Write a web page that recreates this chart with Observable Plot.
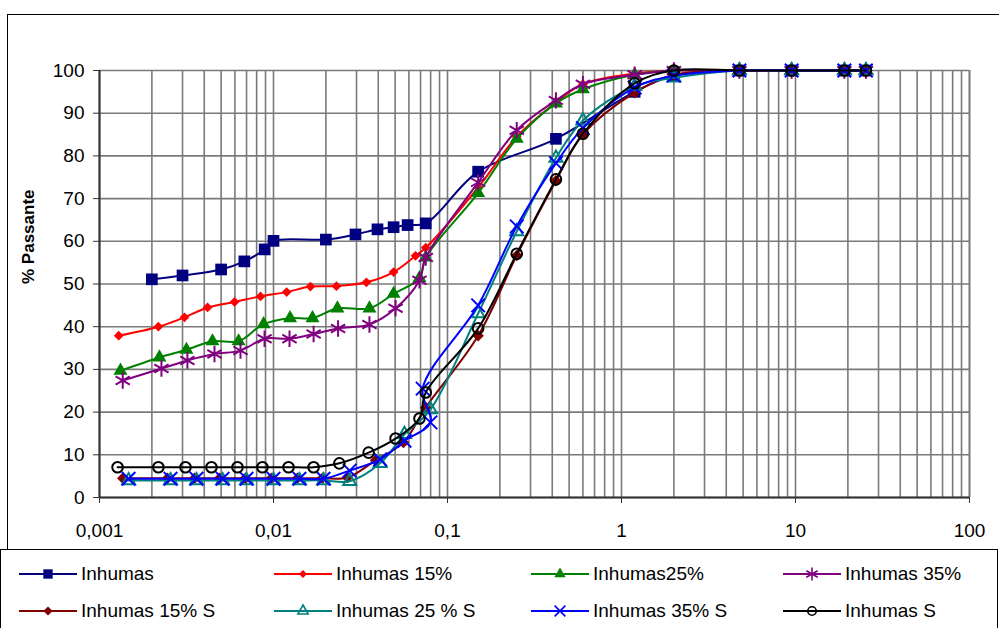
<!DOCTYPE html>
<html><head><meta charset="utf-8">
<script src="https://cdn.jsdelivr.net/npm/d3@7"></script>
<script src="https://cdn.jsdelivr.net/npm/@observablehq/plot@0.6"></script>
<style>
body{margin:0;background:#fff;font-family:"Liberation Sans",Arial,sans-serif;}
#wrap{position:relative;width:999px;height:628px;overflow:hidden;background:#fff;}
#frame{position:absolute;left:7px;top:14px;width:1100px;height:700px;border:1px solid #000;box-sizing:border-box;}
#chart{position:absolute;left:0;top:0;}
#legend{position:absolute;left:0;top:549px;width:998px;height:100px;border:1px solid #000;background:#fff;box-sizing:border-box;}
.lg{position:absolute;height:24px;display:flex;align-items:center;font-size:19px;color:#000;white-space:nowrap;}
.lg svg{margin-right:4px;}
</style></head><body>
<div id="wrap"><div id="frame"></div><div id="chart"></div><div id="legend"></div></div>
<script>
// ---- data ----
const seriesNames = ["Inhumas", "Inhumas 15%", "Inhumas25%", "Inhumas 35%", "Inhumas 15% S", "Inhumas 25 % S", "Inhumas 35% S", "Inhumas S"];

const inhumasX = [0.002, 0.003, 0.005, 0.0068, 0.0089, 0.01, 0.02, 0.0296, 0.0396, 0.049, 0.059, 0.075, 0.15, 0.42, 1.19, 2.0, 4.76, 9.5, 19.1, 25.4];
const inhumasY = [51.1, 52.0, 53.4, 55.3, 58.1, 60.1, 60.4, 61.6, 62.8, 63.3, 63.8, 64.2, 76.3, 84.0, 95.0, 98.8, 100, 100, 100, 100];

const inh15X = [0.00129, 0.00218, 0.00308, 0.00418, 0.00597, 0.00842, 0.0119, 0.0163, 0.023, 0.0342, 0.049, 0.0655, 0.075, 0.15, 0.25, 0.42, 0.6, 1.19, 2.0, 4.76, 9.5, 19.1, 25.4];
const inh15Y = [37.9, 40.0, 42.2, 44.5, 45.8, 47.1, 48.1, 49.4, 49.5, 50.4, 52.8, 56.6, 58.5, 72.6, 84.5, 92.5, 96.8, 99.3, 100, 100, 100, 100, 100];

const inh25X = [0.00132, 0.00221, 0.00316, 0.00446, 0.0063, 0.00877, 0.01245, 0.01675, 0.0233, 0.0356, 0.049, 0.069, 0.075, 0.15, 0.25, 0.42, 0.6, 1.19, 2.0, 4.76, 9.5, 19.1, 25.4];
const inh25Y = [29.7, 32.8, 34.6, 36.6, 36.6, 40.6, 42.0, 42.0, 44.3, 44.3, 47.7, 51.4, 56.2, 71.3, 84.0, 92.3, 95.6, 99.0, 100, 100, 100, 100, 100];

const inh35X = [0.00136, 0.00227, 0.0032, 0.00458, 0.00646, 0.00888, 0.01236, 0.017, 0.0235, 0.0356, 0.0503, 0.069, 0.075, 0.15, 0.25, 0.42, 0.6, 1.19, 2.0, 4.76, 9.5, 19.1, 25.4];
const inh35Y = [27.4, 30.2, 32.1, 33.6, 34.4, 37.2, 37.2, 38.3, 39.6, 40.5, 44.3, 50.9, 56.2, 73.8, 86.0, 93.0, 96.8, 99.0, 100, 100, 100, 100, 100];

const inh15SX = [0.00136, 0.00246, 0.00352, 0.0049, 0.0069, 0.00974, 0.01374, 0.0191, 0.0266, 0.0386, 0.0558, 0.075, 0.15, 0.25, 0.42, 0.6, 1.19, 2.0, 4.76, 9.5, 19.1, 25.4];
const inh15SY = [4.5, 4.5, 4.5, 4.5, 4.5, 4.5, 4.5, 4.5, 4.7, 8.7, 12.9, 21.1, 37.9, 56.7, 74.2, 85.0, 94.8, 99.0, 100, 100, 100, 100];

const inh25SX = [0.00147, 0.00256, 0.00361, 0.0051, 0.007, 0.01, 0.0141, 0.0194, 0.0274, 0.041, 0.0566, 0.0798, 0.15, 0.25, 0.42, 0.6, 1.19, 2.0, 4.76, 9.5, 19.1, 25.4];
const inh25SY = [4.0, 4.0, 4.0, 4.0, 4.0, 4.0, 4.0, 4.0, 3.8, 8.0, 14.8, 20.6, 43.1, 62.3, 79.5, 88.3, 96.3, 98.3, 100, 100, 100, 100];

const inh35SX = [0.00147, 0.00256, 0.00361, 0.0051, 0.007, 0.01, 0.0141, 0.0194, 0.0274, 0.041, 0.0566, 0.0798, 0.072, 0.15, 0.25, 0.42, 0.6, 1.19, 2.0, 4.76, 9.5, 19.1, 25.4];
const inh35SY = [4.4, 4.4, 4.4, 4.4, 4.4, 4.4, 4.4, 4.4, 6.3, 8.9, 13.3, 17.6, 25.5, 45.0, 63.5, 78.3, 86.5, 96.0, 98.8, 100, 100, 100, 100];

const inhSX = [0.00127, 0.00218, 0.00312, 0.0044, 0.00621, 0.00864, 0.0122, 0.017, 0.0239, 0.0352, 0.0503, 0.069, 0.075, 0.15, 0.25, 0.42, 0.6, 1.19, 2.0, 4.76, 9.5, 19.1, 25.4];
const inhSY = [7.1, 7.1, 7.1, 7.1, 7.1, 7.1, 7.1, 7.1, 8.0, 10.5, 13.8, 18.5, 24.6, 39.6, 57.1, 74.5, 85.2, 97.0, 100, 100, 100, 100, 100];

const xTickLabels = [0.001, 0.01, 0.1, 1, 10, 100];
const yTicks = [0, 10, 20, 30, 40, 50, 60, 70, 80, 90, 100];
const xGridTicks = [];
for (const p of [0.001, 0.01, 0.1, 1, 10]) for (let m = 1; m <= 9; m++) xGridTicks.push(+(m * p).toPrecision(3));
xGridTicks.push(100);

// ---- styles ----
const styles = [
  {color: "#000080", symbol: "square", r: 6.6, filled: true},
  {color: "#ff0000", symbol: "square", r: 3.9, filled: true, rotate: 45},
  {color: "#008000", symbol: "triangle", r: 5.2, filled: true},
  {color: "#800080", symbol: "asterisk", r: 7.8, filled: false},
  {color: "#800000", symbol: "square", r: 4.6, filled: true, rotate: 45},
  {color: "#008080", symbol: "triangle2", r: 6.2, filled: false},
  {color: "#0000ff", symbol: "times", r: 6.2, filled: false},
  {color: "#000000", symbol: "circle", r: 5.3, filled: false}
];
const xs = [inhumasX, inh15X, inh25X, inh35X, inh15SX, inh25SX, inh35SX, inhSX];
const ys = [inhumasY, inh15Y, inh25Y, inh35Y, inh15SY, inh25SY, inh35SY, inhSY];

const marks = [
  Plot.gridY(yTicks, {stroke: "#7a7a7a", strokeOpacity: 1, strokeWidth: 1.6}),
  Plot.gridX(xGridTicks, {stroke: "#7a7a7a", strokeOpacity: 1, strokeWidth: 1.6}),
  Plot.ruleX([100], {stroke: "#7a7a7a", strokeWidth: 1.6}),
  Plot.ruleX([0.001], {stroke: "#333", strokeWidth: 2}),
  Plot.ruleY([0], {stroke: "#333", strokeWidth: 2}),
  Plot.axisY(yTicks, {tickSize: 6, tickPadding: 9, fontSize: 19, label: null, stroke: "#333"}),
  Plot.axisX(xTickLabels, {tickSize: 6, tickPadding: 20, fontSize: 19, label: null, stroke: "#333",
    tickFormat: d => String(d).replace(".", ",")}),
  Plot.text(["% Passante"], {frameAnchor: "left", dx: -71, rotate: -90, fontWeight: "bold", fontSize: 17})
];
seriesNames.forEach((name, i) => {
  const rows = xs[i].map((x, j) => ({x, y: ys[i][j]}));
  const st = styles[i];
  marks.push(Plot.line(rows, {x: "x", y: "y", stroke: st.color, strokeWidth: 2, curve: "catmull-rom"}));
  const opts = {x: "x", y: "y", symbol: st.symbol, r: st.r};
  if (st.filled) { opts.fill = st.color; opts.stroke = "none"; }
  else { opts.fill = "none"; opts.stroke = st.color; opts.strokeWidth = 2; }
  if (st.rotate) opts.rotate = st.rotate;
  marks.push(Plot.dot(rows, opts));
});

const chart = Plot.plot({
  width: 999, height: 549,
  marginLeft: 99, marginRight: 30, marginTop: 70, marginBottom: 52,
  style: {fontFamily: "'Liberation Sans', Arial, sans-serif", fontSize: "19px", background: "transparent", color: "#000"},
  x: {type: "log", domain: [0.001, 100]},
  y: {domain: [0, 100]},
  marks
});
document.getElementById("chart").appendChild(chart);

// ---- legend ----
const symMap = {square: d3.symbolSquare, triangle: d3.symbolTriangle, asterisk: d3.symbolAsterisk,
  triangle2: d3.symbolTriangle2, times: d3.symbolTimes, circle: d3.symbolCircle};
const legend = document.getElementById("legend");
const colX = [18, 273, 530, 782];
const rowY = [12, 49];
seriesNames.forEach((name, i) => {
  const st = styles[i];
  const div = document.createElement("div");
  div.className = "lg";
  div.style.left = colX[i % 4] + "px";
  div.style.top = rowY[Math.floor(i / 4)] + "px";
  const svg = d3.create("svg").attr("width", 58).attr("height", 24);
  svg.append("line").attr("x1", 0).attr("x2", 58).attr("y1", 12).attr("y2", 12).attr("stroke", st.color).attr("stroke-width", 2);
  const rr = st.r * 0.8;
  const p = svg.append("path").attr("d", d3.symbol(symMap[st.symbol], Math.PI * rr * rr)())
    .attr("transform", `translate(29,12) rotate(${st.rotate || 0})`);
  if (st.filled) p.attr("fill", st.color); else p.attr("fill", "none").attr("stroke", st.color).attr("stroke-width", 1.6);
  div.appendChild(svg.node());
  const span = document.createElement("span");
  span.textContent = name;
  div.appendChild(span);
  legend.appendChild(div);
});
</script>
</body></html>
